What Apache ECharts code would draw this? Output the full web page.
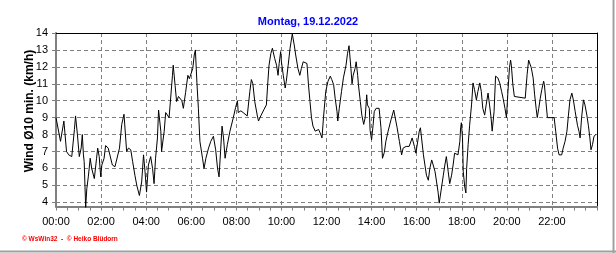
<!DOCTYPE html>
<html>
<head>
<meta charset="utf-8">
<script src="https://cdn.jsdelivr.net/npm/echarts@6/dist/echarts.min.js"></script>
<style>
html,body{margin:0;padding:0;background:#fff;}
#chart{width:616px;height:253px;}
</style>
</head>
<body>
<div id="chart"></div>
<script>
const titleText = 'Montag, 19.12.2022';
const yAxisTitle = 'Wind Ø10 min. (km/h)';
const creditText = '© WsWin32  -  © Heiko Blüdorn';
const yTickValues = [4,5,6,7,8,9,10,11,12,13,14];

// minutes since midnight
const minutes = [
0,12,21,28,34,42,49,52,57,62,67,70,73,75,79,82,86,91,95,102,108,111,115,119,122,128,132,139,144,150,157,162,169,175,181,188,193,199,204,210,215,222,228,233,237,241,246,252,257,261,265,270,273,279,281,288,292,296,301,305,310,312,317,321,326,330,335,339,345,351,355,359,364,368,371,375,379,383,390,394,399,406,412,419,425,430,434,438,442,446,450,456,463,472,478,483,
485,492,498,503,509,516,520,524,529,536,539,545,554,560,564,567,572,576,579,582,587,591,594,598,600,605,610,613,618,623,629,634,638,644,649,653,658,663,668,672,676,680,684,690,694,699,703,708,712,718,724,730,734,739,743,748,750,754,760,765,772,776,780,785,788,791,796,799,803,805,810,814,819,823,827,829,834,836,840,844,847,852,856,860,865,869,874,878,884,892,899,902,908,914,920,924,932,940,948,954,958,
967,970,978,982,986,991,995,1000,1004,1009,1013,1017,1020,1023,1027,1031,1035,1039,1044,1048,1053,1057,1061,1066,1070,1075,1077,1079,1082,1084,1088,1091,1093,1097,1101,1106,1110,1114,1119,1123,1128,1132,1136,1141,1145,1150,1154,1158,1161,1166,1170,1176,1181,1186,1190,1195,1199,1203,1207,1210,1212,1216,1220,1225,1249,1254,1258,1261,1265,1270,1274,1278,1281,1285,1289,1293,1298,1300,1304,1308,1326,1330,1335,1339,1346,1350,1355,1360,1364,1368,1373,1377,1382,1388,1392,1395,1399,1404,1408,1413,1417,1421,1424,1428,1432,1437
];
const windSpeed = [
9.0,7.6,8.8,7.0,6.8,6.7,8.3,9.1,8.0,6.7,7.2,8.0,6.8,6.4,3.7,4.8,5.5,6.6,6.0,5.4,6.6,7.2,6.7,5.5,6.2,6.6,7.35,7.2,7.1,6.2,6.1,6.0,7.2,8.6,9.2,7.0,7.2,7.1,6.4,5.6,5.0,4.4,5.2,6.8,5.8,4.6,6.2,6.7,6.0,5.1,6.6,7.8,9.45,8.2,7.0,8.2,9.3,9.2,9.0,10.1,11.5,12.1,10.9,9.95,10.25,10.3,10.0,9.55,10.5,11.5,11.3,11.4,11.9,12.7,13.0,11.1,9.55,7.6,6.6,6.0,6.6,7.2,7.6,7.9,7.1,6.0,5.5,7.0,8.5,7.8,6.6,7.4,8.2,9.0,9.6,10.0,
9.3,9.4,9.3,9.2,9.1,10.55,11.25,11.0,9.95,9.1,8.8,9.1,9.5,9.75,11.15,12.1,12.8,13.1,13.2,12.5,12.1,11.5,12.2,12.9,12.3,11.5,10.75,11.15,12.1,13.1,13.95,13.3,12.7,11.9,11.5,11.9,12.3,12.3,12.2,10.95,9.95,9.0,8.5,8.2,8.1,8.3,8.1,7.8,9.0,10.55,11.15,11.45,11.25,10.95,10.15,9.35,8.8,9.55,10.55,11.35,12.1,12.8,13.25,11.9,11.0,11.5,11.9,12.3,11.5,10.95,9.95,9.15,8.6,9.0,10.35,9.75,9.55,8.25,7.7,8.55,9.35,9.55,9.6,9.55,8.4,6.6,6.95,7.6,8.2,8.9,9.45,9.35,8.4,7.6,6.8,7.2,7.3,7.3,7.8,7.3,6.9,
8.2,8.4,6.8,6.2,5.6,5.3,6.0,6.5,6.2,5.8,5.2,4.6,3.95,4.05,5.0,5.6,6.2,6.7,5.8,5.1,5.6,6.2,6.9,6.9,6.8,7.6,8.4,8.7,7.8,5.8,4.9,4.55,6.0,7.4,8.55,9.75,11.05,10.65,10.05,10.55,11.05,10.55,9.55,9.15,9.75,10.45,9.75,9.0,8.2,9.35,11.45,11.35,11.05,10.55,10.15,9.55,9.0,10.55,11.95,12.4,12.1,10.95,10.25,10.15,10.15,11.55,12.4,12.3,11.95,11.35,10.35,9.55,9.0,9.55,10.15,10.65,11.15,10.95,9.95,9.0,9.0,8.2,7.2,6.8,6.8,7.2,7.6,8.2,9.15,10.05,10.45,10.05,9.35,8.55,8.2,7.8,9.0,10.05,9.75,9.15,8.55,7.8,7.1,7.4,7.9,8.0
];

const seriesData = minutes.map((m, i) => [m, windSpeed[i]]);
const pad = n => (n < 10 ? '0' : '') + n;

const chart = echarts.init(document.getElementById('chart'), null, {renderer: 'canvas'});
const FONT = 'Arial, "Liberation Sans", sans-serif';
chart.setOption({
  animation: false,
  backgroundColor: '#ffffff',
  title: {
    text: titleText,
    left: 'center',
    top: 11,
    textStyle: {color: '#0000ff', fontWeight: 'bold', fontSize: 11, fontFamily: FONT}
  },
  grid: {left: 56, right: 19, top: 33, bottom: 46.5, containLabel: false},
  xAxis: [{
    type: 'value',
    min: 0, max: 1440, interval: 120,
    axisLine: {show: true, lineStyle: {color: '#808080', width: 2}},
    axisTick: {show: true, length: 4, lineStyle: {color: '#808080', width: 1}},
    minorTick: {show: true, splitNumber: 4, length: 4, lineStyle: {color: '#808080', width: 1}},
    axisLabel: {
      color: '#000', fontSize: 11, fontFamily: FONT, margin: 10,
      formatter: v => (v >= 1440 ? '' : pad(v / 60) + ':00')
    },
    splitLine: {show: true, lineStyle: {color: '#808080', type: [4, 3], width: 1}}
  }, {
    type: 'value', position: 'top', min: 0, max: 1440,
    axisLine: {show: true, onZero: false, lineStyle: {color: '#000', width: 1}},
    axisTick: {show: false}, axisLabel: {show: false}, splitLine: {show: false}
  }],
  yAxis: [{
    type: 'value',
    min: 3.75, max: 14,
    axisLine: {show: true, lineStyle: {color: '#808080', width: 2}},
    axisTick: {show: true, customValues: yTickValues, length: 4, lineStyle: {color: '#808080', width: 1}},
    axisLabel: {customValues: yTickValues, color: '#000', fontSize: 11, fontFamily: FONT, margin: 8},
    splitLine: {show: true, lineStyle: {color: '#808080', type: [4, 3], width: 1}}
  }, {
    type: 'value', position: 'right', min: 3.75, max: 14,
    axisLine: {show: true, onZero: false, lineStyle: {color: '#000', width: 1}},
    axisTick: {show: false}, axisLabel: {show: false}, splitLine: {show: false}
  }],
  graphic: [
    {type: 'text', x: 30, y: 111, rotation: Math.PI / 2,
     style: {text: yAxisTitle, fill: '#000', font: 'bold 12px ' + FONT, textAlign: 'center', textVerticalAlign: 'middle'}},
    {type: 'text', left: 22, top: 236,
     style: {text: creditText, fill: '#ff0000', font: 'bold 6.5px ' + FONT}},
    {type: 'line', shape: {x1: 613.5, y1: 0, x2: 613.5, y2: 253}, style: {stroke: '#a0a0a0', lineWidth: 2}},
    {type: 'line', shape: {x1: 0, y1: 251.5, x2: 616, y2: 251.5}, style: {stroke: '#a0a0a0', lineWidth: 2}}
  ],
  series: [{
    type: 'line',
    data: seriesData,
    showSymbol: false,
    symbol: 'none',
    clip: false,
    lineStyle: {color: '#000', width: 1},
    z: 5
  }]
});
</script>
</body>
</html>
